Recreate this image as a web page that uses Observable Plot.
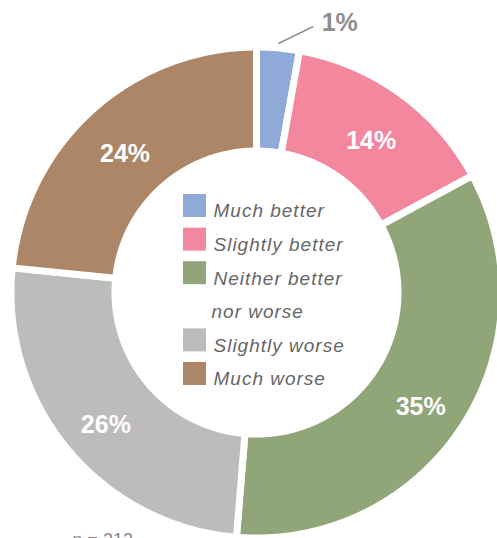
<!DOCTYPE html>
<html><head><meta charset="utf-8">
<script src="https://cdn.jsdelivr.net/npm/d3@7"></script>
<script src="https://cdn.jsdelivr.net/npm/@observablehq/plot@0.6"></script>
<style>
body{margin:0;background:#fff}
#chart{width:497px;height:538px;overflow:hidden}
</style>
</head><body><div id="chart"></div>
<script>
// ---- data ----
const categories = ["Much better", "Slightly better", "Neither better nor worse", "Slightly worse", "Much worse"];
const values = [2.8, 14.3, 34.2, 25.3, 23.4];      // slice sizes as drawn
const labels = ["1%", "14%", "35%", "26%", "24%"];  // printed labels
const colors = ["#8fa9d8", "#f2879d", "#90a679", "#bdbbbc", "#ac8666"];
const legendLines = ["Much better", "Slightly better", "Neither better", "nor worse", "Slightly worse", "Much worse"];
const legendCategory = [0, 1, 2, null, 3, 4];
const note = "n = 212";

// ---- layout (pixels) ----
const W = 497, H = 538, CX = 256, CY = 292;
const R_OUT = 245.5, R_IN = 141.5, GAP = 7;
const px = x => x - CX, py = y => y - CY;   // pixel -> data coords
const polar = (r, a) => [r * Math.sin(a), -r * Math.cos(a)];

const total = d3.sum(values);
let acc = 0;
const slices = values.map((v, i) => {
  const a0 = acc / total * 2 * Math.PI; acc += v;
  const a1 = acc / total * 2 * Math.PI;
  return {i, cat: categories[i], a0, a1, mid: (a0 + a1) / 2, label: labels[i], value: v};
});

const poly = [];
for (const s of slices) {
  const n = Math.max(8, Math.ceil((s.a1 - s.a0) / (Math.PI / 360)));
  const pts = [];
  for (let k = 0; k <= n; k++) pts.push(polar(R_OUT, s.a0 + (s.a1 - s.a0) * k / n));
  for (let k = n; k >= 0; k--) pts.push(polar(R_IN, s.a0 + (s.a1 - s.a0) * k / n));
  pts.push(pts[0]);
  for (const [x, y] of pts) poly.push({cat: s.cat, x, y});
}

const inside = slices.filter(s => s.value / total >= 0.05);
const outside = slices.filter(s => s.value / total < 0.05);
const insideLabels = inside.map(s => { const [x, y] = polar(196, s.mid); return {x, y, text: s.label}; });
const leaders = outside.map(s => {
  const [x1, y1] = polar(250, s.mid);
  const [x2, y2] = polar(272, s.mid + 7 * Math.PI / 180);
  return {x1, y1, x2, y2, text: s.label};
});

const rowTop0 = 194, rowStep = 33.6, sq = 23, sqX = 183, txX = 213;
const legendSquares = legendCategory.map((c, r) => ({c, r})).filter(d => d.c !== null).map(d => ({
  cat: categories[d.c],
  x1: px(sqX), x2: px(sqX + sq),
  y1: py(rowTop0 + d.r * rowStep), y2: py(rowTop0 + d.r * rowStep + sq)
}));
const legendText = legendLines.map((t, r) => ({
  text: t,
  x: px(legendCategory[r] === null ? txX - 2 : txX),
  y: py(rowTop0 + r * rowStep + 9.3)
}));

const svg = Plot.plot({
  width: W, height: H,
  margin: 0,
  style: {fontFamily: "'Liberation Sans', Arial, sans-serif", background: "white", overflow: "visible"},
  x: {type: "linear", domain: [-CX, W - CX], range: [0, W], axis: null},
  y: {type: "linear", domain: [-CY, H - CY], range: [0, H], axis: null},
  color: {domain: categories, range: colors},
  marks: [
    Plot.line(poly, {x: "x", y: "y", z: "cat", fill: "cat", stroke: "white", strokeWidth: GAP, strokeLinejoin: "miter", curve: "linear"}),
    Plot.text(insideLabels, {x: "x", y: "y", dy: 7, text: "text", fill: "white", fontSize: 25, fontWeight: "bold"}),
    Plot.link(leaders, {x1: "x1", y1: "y1", x2: "x2", y2: "y2", stroke: "#8e8e8e", strokeWidth: 1.5}),
    Plot.text(leaders, {x: d => d.x2 + 8.4, y: d => d.y2 - 13.3, text: "text", fill: "#8e8e8e", fontSize: 25, fontWeight: "bold", textAnchor: "start", lineAnchor: "top"}),
    Plot.rect(legendSquares, {x1: "x1", x2: "x2", y1: "y1", y2: "y2", fill: "cat"}),
    Plot.text(legendText, {x: "x", y: "y", text: "text", textAnchor: "start", lineAnchor: "top", fontSize: 19, fontStyle: "italic", fill: "#666"}),
    Plot.text([note], {x: px(72), y: py(533), text: d => d, textAnchor: "start", lineAnchor: "top", fontSize: 18, fill: "#888"})
  ]
});
d3.select(svg).selectAll("text")
  .filter(function () { return legendLines.includes(this.textContent); })
  .attr("letter-spacing", "1px");
document.getElementById("chart").appendChild(svg);
</script>
</body></html>
